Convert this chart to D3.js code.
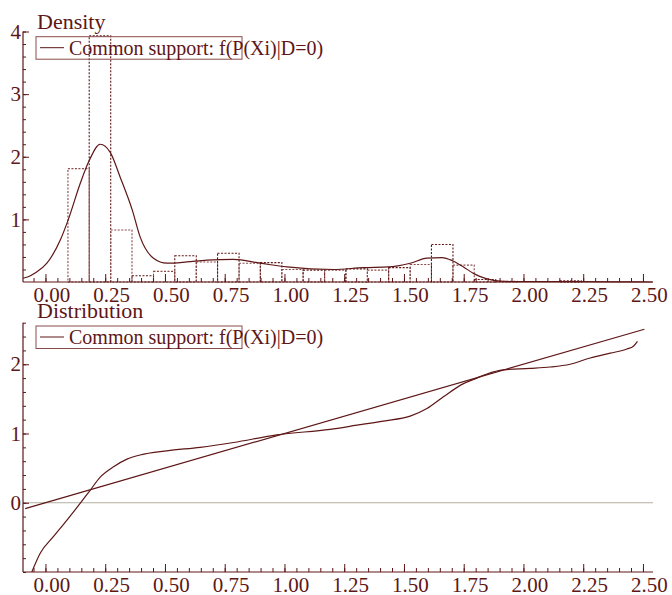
<!DOCTYPE html>
<html>
<head>
<meta charset="utf-8">
<script src="https://cdn.jsdelivr.net/npm/d3@7"></script>
<style>
  html, body { margin: 0; padding: 0; background: #fff; }
  svg { display: block; }
  text { font-family: "Liberation Serif", "Times New Roman", serif; fill: #5e1616; }
</style>
</head>
<body>
<svg id="chart" width="672" height="595"></svg>
<script>
// ---------------- DATA ----------------
const titles = ["Density", "Distribution"];
const legendLabel = "Common support: f(P(Xi)|D=0)";

// histogram bin edges (n+1) and densities (n)
const histEdges = [0.094,0.183,0.273,0.362,0.452,0.541,0.631,0.720,0.810,0.899,0.989,1.078,1.168,1.257,1.347,1.436,1.526,1.615,1.705,1.794,1.884,1.973,2.063,2.152,2.242];
const histDensity = [1.81,3.93,0.83,0.10,0.17,0.42,0.32,0.46,0.30,0.31,0.20,0.19,0.19,0.21,0.19,0.23,0.28,0.60,0.27,0.04,0.01,0,0,0.02];

// kernel density estimate
const kdeX = [-0.094,-0.075,-0.04,0.006,0.062,0.094,0.145,0.183,0.229,0.271,0.313,0.364,0.396,0.452,0.508,0.592,0.675,0.787,0.898,1.01,1.205,1.331,1.435,1.526,1.596,1.659,1.703,1.749,1.794,1.847,1.915,2.0,2.2,2.4,2.54];
const kdeY = [0.06,0.08,0.15,0.30,0.67,0.98,1.57,1.94,2.20,2.07,1.67,1.14,0.72,0.38,0.30,0.32,0.35,0.36,0.30,0.24,0.20,0.23,0.24,0.30,0.38,0.39,0.34,0.24,0.13,0.05,0.01,0.005,0.005,0.003,0.0];

// distribution panel: reference line and empirical curve
const refLineX = [-0.085, 2.506];
const distX = [-0.057,-0.022,0.033,0.090,0.145,0.187,0.229,0.285,0.341,0.396,0.508,0.647,0.787,0.968,1.191,1.303,1.414,1.526,1.596,1.665,1.749,1.805,1.847,1.916,2.028,2.112,2.195,2.279,2.363,2.433,2.460,2.477];
const distY = [-1.0,-0.73,-0.49,-0.25,-0.01,0.18,0.37,0.52,0.63,0.69,0.75,0.80,0.87,0.98,1.06,1.12,1.18,1.25,1.36,1.53,1.72,1.80,1.86,1.92,1.94,1.96,2.00,2.09,2.16,2.22,2.26,2.33];

const xMajor = [0,0.25,0.5,0.75,1.0,1.25,1.5,1.75,2.0,2.25,2.5];
const xMinor = d3.range(-0.05, 2.5001, 0.05);
const yTopLabels = [1,2,3,4];
const yBotLabels = [0,1,2];

// ---------------- DRAW ----------------
const MAROON = "#5e1616";
const svg = d3.select("#chart");

const x = d3.scaleLinear().domain([-0.094, 2.542]).range([23, 653]);
const yTop = d3.scaleLinear().domain([0, 4]).range([282, 31.5]);
const yBot = d3.scaleLinear().domain([-1, 2.6]).range([572, 322.7]);

function drawXAxis(yPos) {
  const g = svg.append("g").attr("transform", `translate(0,${yPos})`);
  const minor = d3.axisBottom(x).tickValues(xMinor).tickSize(-4).tickFormat("");
  g.append("g").call(minor).call(s => {
    s.select(".domain").remove();
    s.selectAll("line").attr("stroke", MAROON);
  });
  const major = d3.axisBottom(x).tickValues(xMajor).tickSize(-8).tickFormat(d3.format(".2f"));
  g.append("g").call(major).call(s => {
    s.select(".domain").remove();
    s.selectAll("line").attr("stroke", MAROON);
    s.selectAll("text").attr("font-size", 21).attr("y", 19.5).attr("dy", 0)
      .attr("dx", 6).attr("font-family", "Liberation Serif, serif").attr("fill", MAROON);
  });
  g.append("line").attr("x1", x.range()[0]).attr("x2", x.range()[1]).attr("y1", 0).attr("y2", 0)
    .attr("stroke", MAROON).attr("stroke-width", 1.2);
}

function drawYAxis(y, labels, minorStart, minorEnd) {
  const g = svg.append("g").attr("transform", `translate(${x.range()[0]},0)`);
  const minorVals = d3.range(minorStart, minorEnd + 1e-6, 0.2);
  const minor = d3.axisLeft(y).tickValues(minorVals).tickSize(-3).tickFormat("");
  g.append("g").call(minor).call(s => {
    s.select(".domain").remove();
    s.selectAll("line").attr("stroke", MAROON);
  });
  const major = d3.axisLeft(y).tickValues(labels).tickSize(-6).tickPadding(3).tickFormat(d3.format("d"));
  g.append("g").call(major).call(s => {
    s.select(".domain").remove();
    s.selectAll("line").attr("stroke", MAROON);
    s.selectAll("text").attr("font-size", 21).attr("x", -2)
      .attr("font-family", "Liberation Serif, serif").attr("fill", MAROON);
  });
  g.append("line").attr("x1", 0).attr("x2", 0).attr("y1", y.range()[0]).attr("y2", y.range()[1])
    .attr("stroke", MAROON).attr("stroke-width", 1.2);
}

function drawLegend(top) {
  const g = svg.append("g");
  g.append("rect").attr("x", 36).attr("y", top).attr("width", 206).attr("height", 22.5)
    .attr("fill", "none").attr("stroke", "#8a4a4a").attr("stroke-width", 1);
  g.append("line").attr("x1", 40).attr("x2", 64).attr("y1", top + 11).attr("y2", top + 11)
    .attr("stroke", MAROON).attr("stroke-width", 1);
  g.append("text").attr("x", 69).attr("y", top + 18).attr("font-size", 20).text(legendLabel);
}

// ---------- Top panel: density ----------
const bins = histDensity.map((d, i) => ({ x0: histEdges[i], x1: histEdges[i + 1], d }));
svg.append("g").selectAll("rect").data(bins.filter(b => b.d > 0)).join("rect")
  .attr("x", b => x(b.x0))
  .attr("y", b => yTop(b.d))
  .attr("width", b => x(b.x1) - x(b.x0))
  .attr("height", b => yTop(0) - yTop(b.d))
  .attr("fill", "none")
  .attr("stroke", (b, i) => i % 2 === 0 ? "#8a4a4a" : "#5e1616")
  .attr("stroke-width", 1.1)
  .attr("stroke-dasharray", "2,1.5");

const kdeLine = d3.line().x((d, i) => x(kdeX[i])).y(d => yTop(d)).curve(d3.curveMonotoneX);
svg.append("path").datum(kdeY).attr("d", kdeLine)
  .attr("fill", "none").attr("stroke", MAROON).attr("stroke-width", 1.2);

drawXAxis(yTop(0));
drawYAxis(yTop, yTopLabels, 0.2, 4);
svg.append("text").attr("x", 37).attr("y", 29).attr("font-size", 22).text(titles[0]);
drawLegend(36.7);

// ---------- Bottom panel: distribution ----------
svg.append("line").attr("x1", x.range()[0]).attr("x2", x.range()[1])
  .attr("y1", yBot(0)).attr("y2", yBot(0)).attr("stroke", "#b5ae9f").attr("stroke-width", 1.2);

svg.append("line")
  .attr("x1", x(refLineX[0])).attr("y1", yBot(refLineX[0]))
  .attr("x2", x(refLineX[1])).attr("y2", yBot(refLineX[1]))
  .attr("stroke", MAROON).attr("stroke-width", 1.2);

const distLine = d3.line().x((d, i) => x(distX[i])).y(d => yBot(d)).curve(d3.curveMonotoneX);
svg.append("path").datum(distY).attr("d", distLine)
  .attr("fill", "none").attr("stroke", MAROON).attr("stroke-width", 1.2);

drawXAxis(yBot(-1));
drawYAxis(yBot, yBotLabels, -1, 2.6);
svg.append("text").attr("x", 37).attr("y", 318).attr("font-size", 22).text(titles[1]);
drawLegend(326);
</script>
</body>
</html>
